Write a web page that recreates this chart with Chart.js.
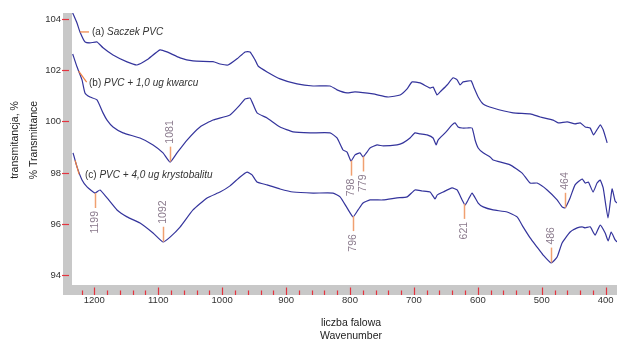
<!DOCTYPE html>
<html>
<head>
<meta charset="utf-8">
<script src="https://cdn.jsdelivr.net/npm/chart.js@4.4.1/dist/chart.umd.min.js"></script>
<style>
  html, body { margin: 0; padding: 0; background: #fff; }
  canvas { display: block; }
</style>
</head>
<body>
<canvas id="chart" width="617" height="340"></canvas>
<script>
// wavenumber (cm-1) / % transmittance
const wnA = [1233.8,1227.1,1222.4,1214.6,1206.7,1195.8,1186.4,1170.7,1148.8,1133.2,1117.6,1097.2,1086.3,1065.9,1045.6,1014.3,1003.3,990.8,976.7,964.2,956.4,948.5,943.8,929.7,909.4,882.8,857.8,831.2,820.3,804.6,792.1,763.9,740.4,721.6,710.7,702.8,690.3,674.7,670.0,663.7,659.0,648.1,638.7,632.4,627.7,623.0,610.5,605.8,599.5,591.7,576.1,544.8,518.2,502.5,482.2,474.4,460.3,448.0,439.9,432.0,424.3,419.0,408.6,403.9,397.7];
const tA  = [104.23,103.84,103.49,103.10,103.06,103.10,102.87,102.59,102.32,102.20,102.40,102.79,102.71,102.48,102.36,102.33,102.24,102.20,102.44,102.71,102.71,102.40,102.16,101.93,101.66,101.46,101.38,101.38,101.23,101.11,101.15,101.07,100.95,101.03,101.27,101.54,101.50,101.30,101.34,101.03,101.15,101.42,101.70,101.62,101.42,101.54,101.58,101.30,100.95,100.68,100.52,100.33,100.29,100.17,100.05,99.94,99.98,99.90,99.94,99.78,99.74,99.47,99.86,99.67,99.16];

const wnB = [1233.8,1227.1,1219.2,1214.6,1206.7,1195.8,1186.4,1180.1,1170.7,1155.1,1128.5,1108.1,1092.5,1081.5,1070.6,1054.9,1034.6,1014.3,987.7,972.0,964.2,956.4,953.2,945.4,929.7,909.4,889.0,862.4,831.2,820.3,810.9,804.6,798.4,792.1,784.3,779.6,773.4,768.7,757.7,748.3,726.4,717.0,706.1,698.3,690.3,679.4,670.0,665.3,662.2,651.2,640.3,635.6,630.9,624.6,616.8,609.0,604.3,599.5,591.7,580.8,576.1,549.5,530.7,518.2,507.3,491.6,476.0,468.2,463.5,455.7,447.9,436.9,432.0,427.0,419.7,413.5,408.6,403.9,396.3,390.0,385.3,382.3];
const tB  = [102.63,102.13,101.62,101.11,100.95,100.84,100.33,100.05,99.78,99.55,99.35,99.08,98.77,98.41,98.77,99.27,99.78,100.05,100.25,100.64,100.87,100.91,100.76,100.33,100.13,99.78,99.59,99.55,99.55,99.35,98.88,98.80,98.45,98.69,98.77,98.61,98.80,98.96,99.08,99.04,99.08,99.16,99.35,99.55,99.51,99.47,99.35,99.08,99.27,99.55,99.86,99.94,99.78,99.74,99.74,99.74,99.27,98.96,98.77,98.61,98.49,98.30,97.98,97.59,97.59,97.32,96.93,96.66,96.62,97.01,97.52,97.75,97.59,97.63,97.24,97.59,97.71,97.40,96.23,97.36,96.89,96.81];

const wnC = [1233.3,1227.1,1219.2,1211.4,1198.9,1191.1,1180.1,1164.5,1148.8,1128.5,1108.1,1092.5,1081.5,1065.9,1045.6,1023.6,1003.3,987.7,972.0,961.0,953.2,945.4,929.7,909.4,889.0,857.8,826.5,815.5,804.6,795.2,787.4,779.6,768.7,748.3,726.4,710.7,698.3,687.3,674.7,666.9,663.7,654.3,640.3,632.4,624.6,619.9,615.2,609.0,599.5,591.7,576.1,554.2,538.6,529.2,518.2,507.3,497.9,485.4,476.0,468.2,455.6,444.6,436.8,432.1,424.3,416.5,408.6,400.8,396.1,391.4,385.2,382.3];
const tC  = [98.77,98.22,97.71,97.44,97.20,97.32,97.01,96.54,96.27,96.03,95.64,95.29,95.48,95.87,96.54,97.01,97.24,97.48,97.83,98.02,97.91,97.63,97.52,97.36,97.24,97.20,97.20,97.05,96.62,96.27,96.54,96.81,96.93,96.93,97.01,97.05,97.32,97.28,97.24,96.97,97.12,97.24,97.40,97.32,96.93,96.73,96.93,97.20,96.81,96.66,96.54,96.46,96.27,95.88,95.45,95.09,94.78,94.47,94.70,95.25,95.68,95.84,95.88,95.84,95.88,95.56,95.95,95.64,95.33,95.68,95.37,95.29];

const xTickLabels = [1200, 1100, 1000, 900, 800, 700, 600, 500, 400];
const yTickLabels = [94, 96, 98, 100, 102, 104];

const seriesTags  = ['(a)', '(b)', '(c)'];
const seriesNames = ['Saczek PVC', 'PVC + 1,0 ug kwarcu', 'PVC + 4,0 ug krystobalitu'];

// marked band positions: which series, and whether the label sits above or below
const peakWn     = [1199, 1092, 1081, 798, 779, 796, 621, 464, 486];
const peakSeries = [2, 2, 1, 1, 1, 2, 2, 1, 2];
const peakUp     = [false, true, true, false, false, false, false, true, true];

const LINE = '#34349c';
const ORANGE = '#ee8040';
const RED = '#e3343f';
const GREY = '#c8c8c8';
const FONT = '"Liberation Sans", Arial, sans-serif';

const allWn = [wnA, wnB, wnC];
const allT = [tA, tB, tC];

function valueAt(i, wn) {
  const xs = allWn[i], ys = allT[i];
  for (let k = 0; k < xs.length - 1; k++) {
    if (wn <= xs[k] && wn >= xs[k + 1]) {
      const f = (xs[k] - wn) / (xs[k] - xs[k + 1]);
      return ys[k] + f * (ys[k + 1] - ys[k]);
    }
  }
  return ys[ys.length - 1];
}

const frame = {
  id: 'frame',
  beforeDatasetsDraw(chart) {
    const { ctx, chartArea: a } = chart;
    ctx.save();
    ctx.fillStyle = GREY;
    ctx.fillRect(63, a.top, a.left - 63, a.bottom + 10 - a.top);
    ctx.fillRect(63, a.bottom, a.right - 63, 10);
    ctx.restore();
  },
  afterDatasetsDraw(chart) {
    const { ctx, chartArea: a } = chart;
    const xs = chart.scales.x, ys = chart.scales.y;
    ctx.save();

    // y ticks
    ctx.strokeStyle = RED;
    ctx.lineWidth = 1.2;
    ctx.fillStyle = '#333';
    ctx.font = '9.5px ' + FONT;
    ctx.textAlign = 'right';
    ctx.textBaseline = 'middle';
    yTickLabels.forEach(v => {
      const y = Math.round(ys.getPixelForValue(v)) + 0.5;
      ctx.beginPath(); ctx.moveTo(62, y); ctx.lineTo(69, y); ctx.stroke();
      ctx.fillText(String(v), 61, y);
    });

    // x ticks (major every 100, minor every 20)
    for (let w = 1220; w >= 400; w -= 20) {
      const x = Math.round(xs.getPixelForValue(w)) + 0.5;
      const major = w % 100 === 0;
      ctx.beginPath();
      ctx.moveTo(x, a.bottom + 10);
      ctx.lineTo(x, a.bottom + (major ? 2.5 : 5.5));
      ctx.stroke();
    }
    ctx.textAlign = 'center';
    xTickLabels.forEach(v => {
      ctx.fillText(String(v), xs.getPixelForValue(v), 300.5);
    });

    // axis titles
    ctx.font = '10.5px ' + FONT;
    ctx.fillStyle = '#222';
    ctx.fillText('liczba falowa', 351, 323.5);
    ctx.fillText('Wavenumber', 351, 336.5);
    ctx.save();
    ctx.translate(15, 140); ctx.rotate(-Math.PI / 2);
    ctx.fillText('transmitancja, %', 0, 0);
    ctx.restore();
    ctx.save();
    ctx.translate(34, 140); ctx.rotate(-Math.PI / 2);
    ctx.fillText('% Transmittance', 0, 0);
    ctx.restore();

    // series labels with leaders
    const leaders = [
      { wn: 1222.4, dx: 9, dy: 0, tx: 92, ty: 32 },
      { wn: 1224.5, dx: 8, dy: 11, tx: 89, ty: 83 },
      { wn: 1230.0, dx: 4, dy: 14, tx: 85, ty: 175 }
    ];
    leaders.forEach((l, i) => {
      const px = xs.getPixelForValue(l.wn);
      const py = ys.getPixelForValue(valueAt(i, l.wn));
      ctx.strokeStyle = ORANGE;
      ctx.lineWidth = 1.2;
      ctx.beginPath(); ctx.moveTo(px, py); ctx.lineTo(px + l.dx, py + l.dy); ctx.stroke();
      ctx.fillStyle = '#333';
      ctx.textAlign = 'left';
      ctx.textBaseline = 'middle';
      ctx.font = '10px ' + FONT;
      ctx.fillText(seriesTags[i], l.tx, l.ty);
      const w = ctx.measureText(seriesTags[i] + ' ').width;
      ctx.font = 'italic 10px ' + FONT;
      ctx.fillText(seriesNames[i], l.tx + w, l.ty);
    });

    // band markers
    peakWn.forEach((wn, i) => {
      const px = Math.round(xs.getPixelForValue(wn)) + 0.5;
      const py = ys.getPixelForValue(valueAt(peakSeries[i], wn));
      const dir = peakUp[i] ? -1 : 1;
      const end = py + dir * 15;
      ctx.strokeStyle = '#f0a070';
      ctx.lineWidth = 1.5;
      ctx.beginPath(); ctx.moveTo(px, py); ctx.lineTo(px, end); ctx.stroke();
      ctx.save();
      ctx.translate(px, end + dir * 3);
      ctx.rotate(-Math.PI / 2);
      ctx.fillStyle = '#8a7a8c';
      ctx.font = '10.5px ' + FONT;
      ctx.textBaseline = 'middle';
      ctx.textAlign = peakUp[i] ? 'left' : 'right';
      ctx.fillText(String(wn), 0, 0);
      ctx.restore();
    });

    ctx.restore();
  }
};

function pts(wn, t) { return wn.map((w, i) => ({ x: w, y: t[i] })); }

new Chart(document.getElementById('chart'), {
  type: 'line',
  data: {
    datasets: [
      { label: seriesNames[0], data: pts(wnA, tA) },
      { label: seriesNames[1], data: pts(wnB, tB) },
      { label: seriesNames[2], data: pts(wnC, tC) }
    ].map(d => Object.assign(d, {
      borderColor: LINE, borderWidth: 1.2, pointRadius: 0, fill: false, tension: 0.15
    }))
  },
  options: {
    responsive: false,
    animation: false,
    devicePixelRatio: 1,
    layout: { padding: { left: 72, top: 13, right: 0, bottom: 55 } },
    plugins: { legend: { display: false }, tooltip: { enabled: false } },
    scales: {
      x: { type: 'linear', reverse: true, min: 382.3, max: 1234.9, display: false },
      y: { type: 'linear', min: 93.61, max: 104.23, display: false }
    }
  },
  plugins: [frame]
});
</script>
</body>
</html>
